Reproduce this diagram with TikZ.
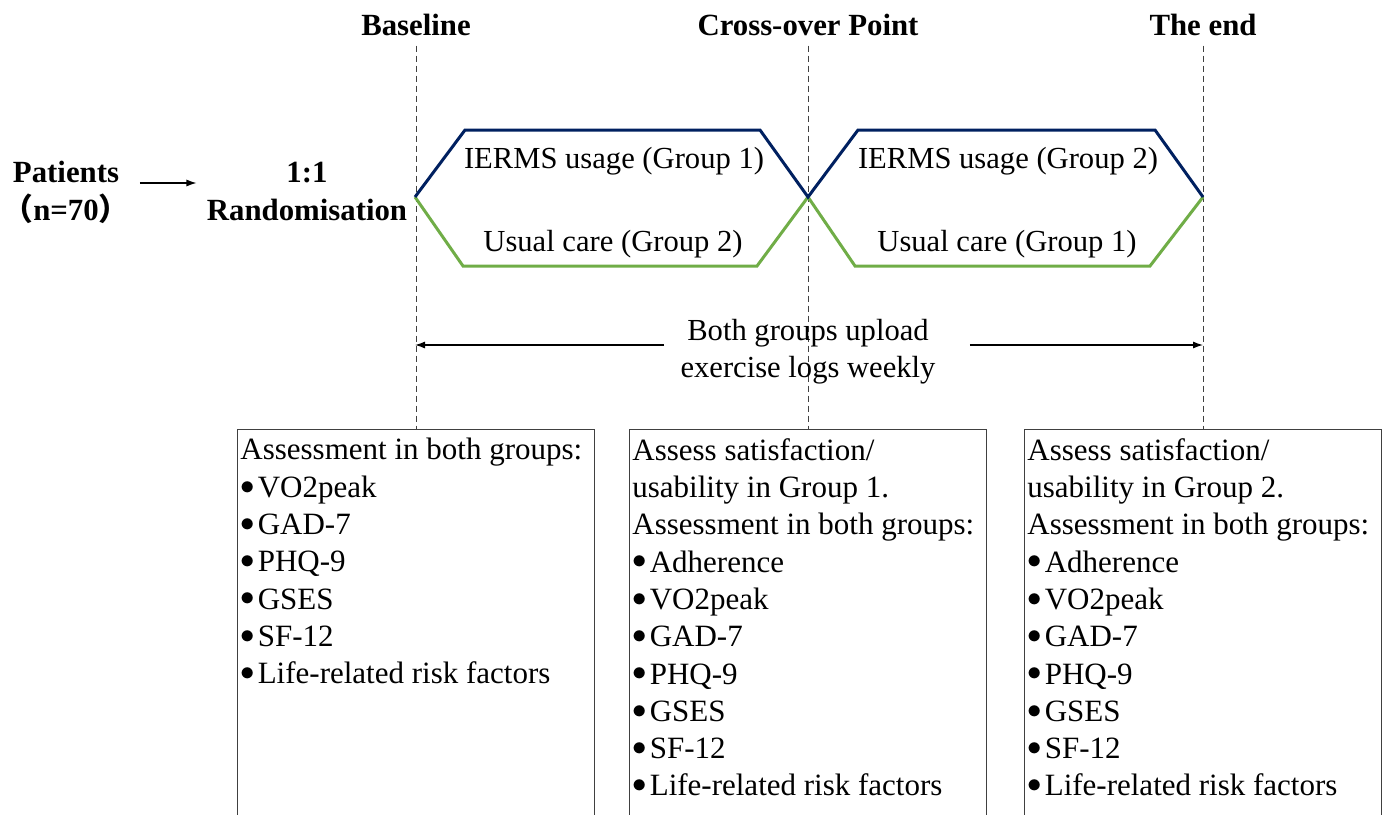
\documentclass[tikz,border=0pt]{standalone}
\usepackage{fontspec}
\setmainfont{Liberation Serif}
\newfontfamily\cjk{Noto Sans CJK SC}
\usepackage{tikz}
\usetikzlibrary{arrows.meta}
\definecolor{navy}{RGB}{0,32,96}
\definecolor{leaf}{RGB}{112,173,71}
\newcommand\pitem{\raisebox{1.6pt}{\fontsize{13.7}{14}\selectfont$\bullet$}\hspace{1.5pt}}

\begin{document}
\begin{tikzpicture}[x=0.5pt, y=-0.5pt,
    head/.style={font=\fontsize{15.4}{19}\selectfont\bfseries, inner sep=5pt},
    grp/.style={font=\fontsize{15.3}{18.5}\selectfont, inner sep=0pt},
    box/.style={draw=black!75, line width=0.7pt, minimum width=178.5pt, minimum height=200pt, anchor=north west, inner sep=0pt},
    boxtext/.style={font=\fontsize{15.5}{18.65}\selectfont, align=left, anchor=north west, inner sep=0pt},
    vline/.style={draw=black!75, line width=0.6pt, dash pattern=on 3pt off 2pt},
    arr/.style={draw, line width=0.6pt, -{Latex[length=5pt,width=3.5pt]}},
    blueline/.style={draw=navy, line width=1.5pt},
    greenline/.style={draw=leaf, line width=1.5pt}]
    \useasboundingbox (0,0) rectangle (1384,814);
    \clip (0,0) rectangle (1384,814);

    \node[head, anchor=base] (tbase) at (416,35) {Baseline};
    \node[head, anchor=base] (tcross) at (808,35) {Cross-over Point};
    \node[head, anchor=base] (tend) at (1203,35) {The end};

    % base anchor of a two-line node sits on its last line
    \node[head, align=center, anchor=base] (pat) at (66,220) {Patients\\{\cjk （}n=70{\cjk ）}};
    \node[head, align=center, anchor=base] (rand) at (307,220) {1:1\\Randomisation};
    \draw[arr] ([yshift=18.5pt]pat.base east) -- ([yshift=18.5pt]rand.base west);

    \node[box] (box1) at (237,429) {};
    \node[box] (box2) at (629,429) {};
    \node[box] (box3) at (1024,429) {};

    \draw[vline] (box1.north |- tbase.south) -- (box1.north);
    \draw[vline] (box2.north |- tcross.south) -- (box2.north);
    \draw[vline] (box3.north |- tend.south) -- (box3.north);

    \coordinate (s) at (415,197);
    \coordinate (m) at (808,197);
    \coordinate (e) at (1203,197);
    \draw[greenline] (s) -- (463,266) -- (757,266) -- (m) -- (855,266) -- (1150,266) -- (e);
    \draw[blueline] (s) -- (465,130) -- (760,130) -- (m) -- (858,130) -- (1155,130) -- (e);

    \node[grp, anchor=base] (g1a) at (614,168) {IERMS usage (Group 1)};
    \node[grp, anchor=base] (g1b) at (613,251) {Usual care (Group 2)};
    \node[grp, anchor=base] (g2a) at (1008,168) {IERMS usage (Group 2)};
    \node[grp, anchor=base] (g2b) at (1007,251) {Usual care (Group 1)};

    \node[grp, align=center, anchor=base, inner xsep=8pt] (upl) at (808,377) {Both groups upload\\exercise logs weekly};
    \coordinate (la) at (415,345);
    \coordinate (ra) at (1203,345);
    \draw[arr] (upl.west |- la) -- (la);
    \draw[arr, shorten <=9pt] (upl.east |- ra) -- (ra);

    \node[boxtext] (txt1) at (240,438) {Assessment in both groups:\\\pitem VO2peak\\\pitem GAD-7\\\pitem PHQ-9\\\pitem GSES\\\pitem SF-12\\\pitem Life-related risk factors};
    \node[boxtext] (txt2) at (632,438) {Assess satisfaction/\\usability in Group 1.\\Assessment in both groups:\\\pitem Adherence\\\pitem VO2peak\\\pitem GAD-7\\\pitem PHQ-9\\\pitem GSES\\\pitem SF-12\\\pitem Life-related risk factors};
    \node[boxtext] (txt3) at (1027,438) {Assess satisfaction/\\usability in Group 2.\\Assessment in both groups:\\\pitem Adherence\\\pitem VO2peak\\\pitem GAD-7\\\pitem PHQ-9\\\pitem GSES\\\pitem SF-12\\\pitem Life-related risk factors};
\end{tikzpicture}
\end{document}
